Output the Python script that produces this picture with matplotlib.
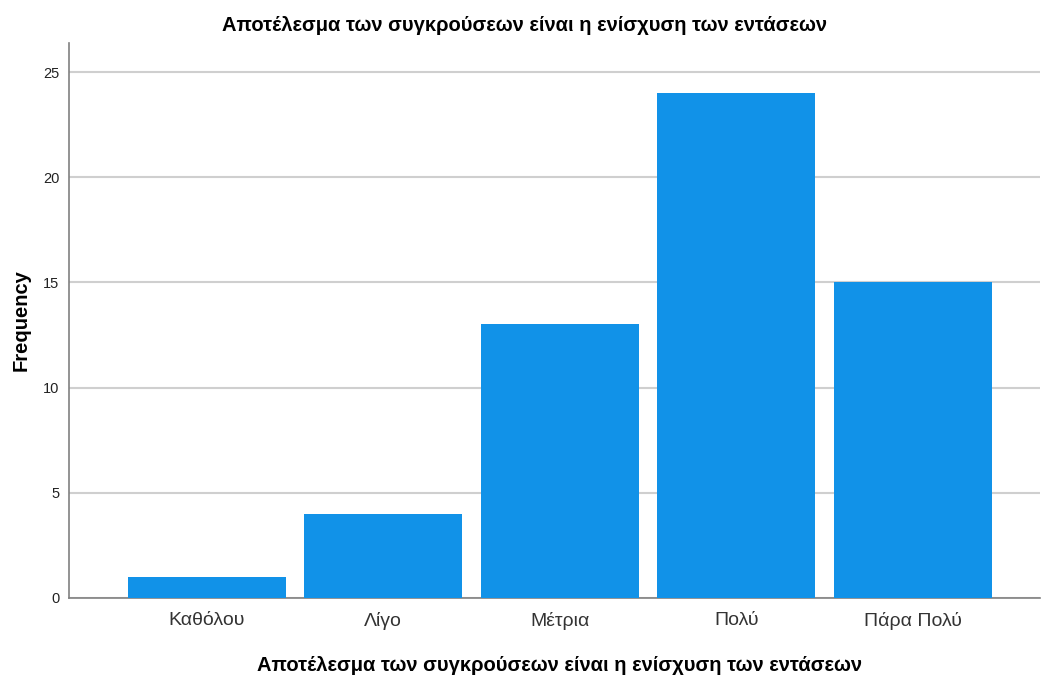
import matplotlib
matplotlib.use("Agg")
import matplotlib.pyplot as plt

categories = ["Καθόλου", "Λίγο", "Μέτρια", "Πολύ", "Πάρα Πολύ"]
frequency = [1, 4, 13, 24, 15]
yticks = [0, 5, 10, 15, 20, 25]
title = "Αποτέλεσμα των συγκρούσεων είναι η ενίσχυση των εντάσεων"

plt.rcParams['font.family'] = ['Liberation Sans', 'DejaVu Sans']

fig = plt.figure(figsize=(10.41, 6.78), dpi=100)
ax = fig.add_axes([0.0663, 0.118, 0.9327, 0.8186])

x = list(range(len(categories)))
ax.bar(x, frequency, width=0.895, color="#1192e8", zorder=3)

ax.set_xlim(-0.78, 4.72)
ax.set_ylim(0, 26.38)
ax.set_yticks(yticks)
ax.set_xticks(x)
ax.set_xticklabels(categories, fontsize=14, color="#333333")
ax.tick_params(axis="y", length=0, labelsize=10.5, pad=7, labelcolor="#222222")
ax.tick_params(axis="x", length=0, pad=10)

ax.yaxis.grid(True, color="#cfcfcf", linewidth=1.5, zorder=0)
for side in ["top", "right"]:
    ax.spines[side].set_visible(False)
for side in ["left", "bottom"]:
    ax.spines[side].set_color("#808080")
    ax.spines[side].set_linewidth(1.2)

# titles as figure text, so they sit where SPSS puts them
fig.text(0.504, 0.963, title, ha="center", va="center",
         fontsize=14.5, fontweight="bold")
fig.text(0.5375, 0.019, title, ha="center", va="center",
         fontsize=14.5, fontweight="bold")
ax.set_ylabel("Frequency", fontsize=14.5, fontweight="bold", labelpad=9)

fig.savefig("out.png", dpi=100)
